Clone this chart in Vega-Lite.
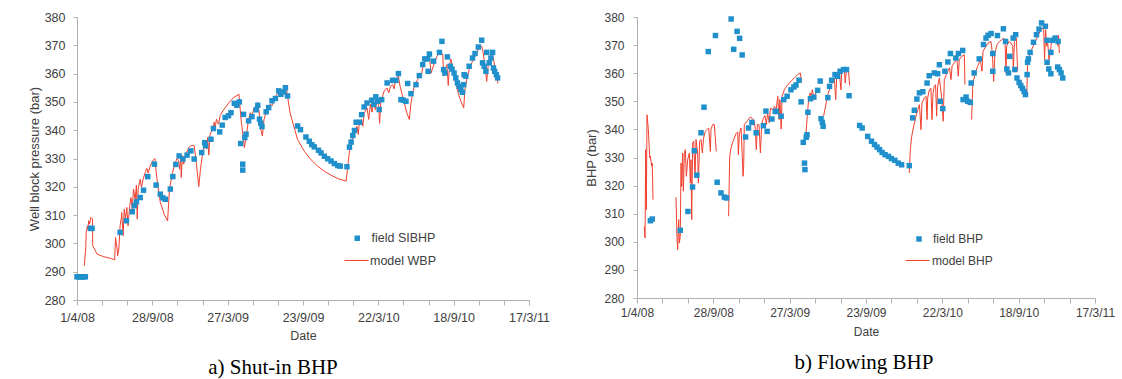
{
"$schema": "https://vega.github.io/schema/vega-lite/v6.json",
"padding": {"left": 28, "top": 11, "right": 5, "bottom": 5},
"spacing": 108,
"bounds": "flush",
"config": {
 "font": "Liberation Sans",
 "view": {"stroke": null},
 "axis": {"labelFont": "Liberation Sans", "titleFont": "Liberation Sans", "titleFontWeight": "normal", "labelColor": "#404040", "titleColor": "#404040", "labelOverlap": false, "grid": false},
 "legend": {"labelFont": "Liberation Sans", "labelColor": "#404040"}
},
"resolve": {"scale": {"x": "independent", "y": "independent", "fill": "independent", "stroke": "independent"}},
"datasets": {
 "grid_levels": [{"pressure":290},{"pressure":300},{"pressure":310},{"pressure":320},{"pressure":330},{"pressure":340},{"pressure":350},{"pressure":360},{"pressure":370},{"pressure":380}],
 "left_field": [
  {"day":0,"pressure":288.2},{"day":4,"pressure":288.2},{"day":8,"pressure":288.2},{"day":12,"pressure":288.2},{"day":16,"pressure":288.2},{"day":20,"pressure":288.2},
  {"day":32,"pressure":305.3},{"day":36,"pressure":305.3},
  {"day":103,"pressure":303.9},{"day":118,"pressure":308},{"day":132,"pressure":311.2},{"day":137,"pressure":313.3},{"day":142,"pressure":314.7},{"day":151,"pressure":316.2},{"day":159,"pressure":318.8},{"day":169,"pressure":323.6},{"day":185,"pressure":328},{"day":189,"pressure":320.6},{"day":199,"pressure":317.4},{"day":205,"pressure":316.1},{"day":211,"pressure":315.6},{"day":223,"pressure":319.2},{"day":229,"pressure":323.6},{"day":236,"pressure":327.9},{"day":244,"pressure":330.9},{"day":253,"pressure":329.8},{"day":263,"pressure":331.2},{"day":272,"pressure":332.7},{"day":280,"pressure":329.8},{"day":298,"pressure":332.1},{"day":305,"pressure":335.6},{"day":307,"pressure":334.5},{"day":320,"pressure":336.8},{"day":326,"pressure":340.6},{"day":341,"pressure":339.4},{"day":347,"pressure":341.8},{"day":354,"pressure":344.5},{"day":362,"pressure":345.1},{"day":368,"pressure":346.2},{"day":376,"pressure":349.5},{"day":382,"pressure":348.8},{"day":388,"pressure":350},{"day":391,"pressure":335.3},{"day":396,"pressure":328},{"day":396,"pressure":325.9},{"day":398,"pressure":345.6},{"day":401,"pressure":337.4},{"day":404,"pressure":338.6},{"day":410,"pressure":343.3},{"day":418,"pressure":344.8},{"day":428,"pressure":347.2},{"day":432,"pressure":348.8},{"day":436,"pressure":343.9},{"day":439,"pressure":342.5},{"day":442,"pressure":341.3},{"day":452,"pressure":346.5},{"day":458,"pressure":348},{"day":466,"pressure":350.4},{"day":474,"pressure":351.2},{"day":482,"pressure":353.9},{"day":487,"pressure":352.7},{"day":494,"pressure":353.5},{"day":498,"pressure":355},{"day":503,"pressure":352.1},
  {"day":527,"pressure":341.5},{"day":534,"pressure":340.2},{"day":547,"pressure":337.6},{"day":555,"pressure":336.1},{"day":561,"pressure":334.9},{"day":567,"pressure":334.1},{"day":577,"pressure":332.9},{"day":583,"pressure":332},{"day":591,"pressure":330.8},{"day":599,"pressure":329.9},{"day":607,"pressure":329.1},{"day":615,"pressure":328.2},{"day":623,"pressure":327.5},{"day":629,"pressure":327.3},{"day":645,"pressure":327.1},{"day":651,"pressure":334},{"day":655,"pressure":335.8},{"day":659,"pressure":338.1},{"day":663,"pressure":339.9},{"day":667,"pressure":342.8},{"day":675,"pressure":342.8},{"day":680,"pressure":345.5},{"day":686,"pressure":348.2},{"day":693,"pressure":349.6},{"day":704,"pressure":350.6},{"day":709,"pressure":349.1},{"day":714,"pressure":351.8},{"day":718,"pressure":350.2},{"day":722,"pressure":347.3},{"day":728,"pressure":350.8},{"day":741,"pressure":356.7},{"day":754,"pressure":357.6},{"day":762,"pressure":357.6},{"day":768,"pressure":360},{"day":774,"pressure":350.8},{"day":780,"pressure":350.6},{"day":786,"pressure":350.2},{"day":790,"pressure":356.5},{"day":798,"pressure":352.9},{"day":810,"pressure":356.1},{"day":818,"pressure":359.3},{"day":826,"pressure":363.2},{"day":831,"pressure":365.2},{"day":838,"pressure":365.2},{"day":839,"pressure":360.8},{"day":842,"pressure":366.9},{"day":852,"pressure":364.4},{"day":866,"pressure":367.5},{"day":872,"pressure":371.4},{"day":876,"pressure":361.4},{"day":879,"pressure":360.2},{"day":885,"pressure":365.9},{"day":892,"pressure":362.6},{"day":896,"pressure":361.6},{"day":901,"pressure":360.2},{"day":905,"pressure":358.5},{"day":909,"pressure":356.7},{"day":913,"pressure":355.5},{"day":917,"pressure":354.4},{"day":921,"pressure":353.4},{"day":924,"pressure":356.1},{"day":925,"pressure":359.6},{"day":929,"pressure":359.1},{"day":937,"pressure":362.6},{"day":945,"pressure":365.5},{"day":951,"pressure":367.1},{"day":959,"pressure":369.4},{"day":967,"pressure":371.8},{"day":969,"pressure":363.8},{"day":973,"pressure":362.6},{"day":977,"pressure":360.8},{"day":979,"pressure":367.5},{"day":985,"pressure":363.8},{"day":989,"pressure":365.5},{"day":993,"pressure":367.5},{"day":995,"pressure":362},{"day":998,"pressure":360.8},{"day":1002,"pressure":359.6},{"day":1005,"pressure":358.5}
 ],
 "left_model": [
  {"day":17.5,"pressure":292.1},{"day":21,"pressure":298.6},{"day":22,"pressure":303.9},{"day":25,"pressure":306.2},{"day":26,"pressure":305},{"day":28,"pressure":308},{"day":30,"pressure":306.8},{"day":33,"pressure":309.2},{"day":37,"pressure":308.6},{"day":37.5,"pressure":299.2},{"day":48,"pressure":296.2},{"day":64,"pressure":295.3},{"day":80,"pressure":294.7},{"day":90,"pressure":294.2},{"day":92,"pressure":302.1},{"day":96,"pressure":298},{"day":97,"pressure":295.6},{"day":100,"pressure":298},{"day":103,"pressure":306.2},{"day":106,"pressure":309.2},{"day":107,"pressure":310.9},{"day":110,"pressure":302.7},{"day":113,"pressure":312.1},{"day":116,"pressure":308.6},{"day":119,"pressure":312.7},{"day":122,"pressure":306.2},{"day":126,"pressure":313.3},{"day":129,"pressure":316.2},{"day":132,"pressure":312.1},{"day":135,"pressure":319.2},{"day":139,"pressure":315.6},{"day":142,"pressure":320.6},{"day":144,"pressure":308.6},{"day":146,"pressure":319.2},{"day":151,"pressure":322.7},{"day":154,"pressure":319.8},{"day":158,"pressure":322.7},{"day":163,"pressure":325.1},{"day":167,"pressure":326.5},{"day":170,"pressure":324.8},{"day":175,"pressure":327.4},{"day":181,"pressure":329.2},{"day":186,"pressure":330},{"day":191,"pressure":322.7},{"day":199,"pressure":314.5},{"day":209,"pressure":310},{"day":216.5,"pressure":308},{"day":221,"pressure":319.2},{"day":227,"pressure":323.9},{"day":232,"pressure":327.4},{"day":239,"pressure":330},{"day":243,"pressure":329.2},{"day":245,"pressure":326.2},{"day":248,"pressure":330.4},{"day":249,"pressure":323.3},{"day":252,"pressure":331},{"day":255,"pressure":328},{"day":259,"pressure":331},{"day":267,"pressure":333.9},{"day":275,"pressure":334.7},{"day":280,"pressure":334.5},{"day":285,"pressure":328.6},{"day":291,"pressure":320.1},{"day":295,"pressure":326.2},{"day":301,"pressure":332.7},{"day":306,"pressure":336.2},{"day":310,"pressure":333.3},{"day":312,"pressure":337.4},{"day":315,"pressure":331.2},{"day":318,"pressure":338.6},{"day":325,"pressure":340.6},{"day":328,"pressure":342.9},{"day":330,"pressure":340.4},{"day":333,"pressure":343.9},{"day":338,"pressure":342.1},{"day":342,"pressure":345.1},{"day":350,"pressure":347.2},{"day":362,"pressure":349.5},{"day":374,"pressure":351.5},{"day":387,"pressure":352.7},{"day":392,"pressure":343.9},{"day":400,"pressure":333.9},{"day":404,"pressure":337.4},{"day":410,"pressure":343.9},{"day":414,"pressure":346.2},{"day":418,"pressure":345.1},{"day":422,"pressure":347.4},{"day":427,"pressure":348.6},{"day":431,"pressure":349.8},{"day":435,"pressure":346.8},{"day":439,"pressure":340.4},{"day":443,"pressure":338},{"day":447,"pressure":343.9},{"day":454,"pressure":347.4},{"day":462,"pressure":349.2},{"day":466,"pressure":348.6},{"day":470,"pressure":350.9},{"day":478,"pressure":352.7},{"day":486,"pressure":353.5},{"day":492,"pressure":354.5},{"day":500,"pressure":355.6},{"day":503,"pressure":352.1},{"day":509,"pressure":346.2},{"day":527,"pressure":336.7},{"day":543,"pressure":332.6},{"day":559,"pressure":329.6},{"day":575,"pressure":327.3},{"day":591,"pressure":325.5},{"day":607,"pressure":324.1},{"day":623,"pressure":322.9},{"day":643,"pressure":322},{"day":647,"pressure":327.3},{"day":651,"pressure":332.6},{"day":656,"pressure":336.1},{"day":663,"pressure":339.1},{"day":669,"pressure":341.4},{"day":672,"pressure":338.5},{"day":675,"pressure":343.2},{"day":680,"pressure":343.8},{"day":683,"pressure":341.4},{"day":686,"pressure":345.9},{"day":693,"pressure":347.9},{"day":697,"pressure":343.8},{"day":701,"pressure":349.1},{"day":705,"pressure":346.4},{"day":709,"pressure":350.2},{"day":713,"pressure":347.3},{"day":717,"pressure":350.8},{"day":721,"pressure":348.5},{"day":723,"pressure":342.4},{"day":726,"pressure":350.2},{"day":734,"pressure":353.8},{"day":741,"pressure":354.9},{"day":745,"pressure":353.2},{"day":749,"pressure":355.5},{"day":754,"pressure":356.1},{"day":758,"pressure":354.6},{"day":760,"pressure":356.9},{"day":765,"pressure":358.5},{"day":768,"pressure":359.1},{"day":772,"pressure":355.5},{"day":780,"pressure":350.8},{"day":788,"pressure":346.1},{"day":794,"pressure":343.8},{"day":798,"pressure":349.6},{"day":803,"pressure":353.8},{"day":807,"pressure":356.1},{"day":814,"pressure":357.9},{"day":819,"pressure":359.6},{"day":822,"pressure":358.5},{"day":826,"pressure":362},{"day":830,"pressure":364},{"day":836,"pressure":365.2},{"day":842,"pressure":366.4},{"day":846,"pressure":360.2},{"day":850,"pressure":362},{"day":854,"pressure":363.8},{"day":860,"pressure":366.1},{"day":868,"pressure":367.9},{"day":874,"pressure":366.7},{"day":876,"pressure":359.1},{"day":879,"pressure":361.4},{"day":884,"pressure":363.2},{"day":887,"pressure":355.8},{"day":890,"pressure":362.6},{"day":893,"pressure":365.2},{"day":897,"pressure":362.6},{"day":901,"pressure":359.1},{"day":908,"pressure":354.9},{"day":913,"pressure":352},{"day":919,"pressure":349.6},{"day":924,"pressure":347.9},{"day":927,"pressure":354.4},{"day":932,"pressure":358.5},{"day":937,"pressure":361.4},{"day":945,"pressure":364.4},{"day":953,"pressure":366.7},{"day":961,"pressure":369.1},{"day":967,"pressure":369.6},{"day":970,"pressure":367.9},{"day":973,"pressure":364.4},{"day":977,"pressure":359.6},{"day":979,"pressure":357.3},{"day":983,"pressure":363.8},{"day":987,"pressure":366.1},{"day":991,"pressure":367.3},{"day":995,"pressure":365.2},{"day":1001,"pressure":360.2},{"day":1006,"pressure":356.5}
 ],
 "right_field": [
  {"day":31.5,"pressure":307.5},{"day":36,"pressure":308.1},{"day":102,"pressure":304.1},{"day":120,"pressure":310.8},{"day":131,"pressure":319.5},{"day":135,"pressure":332.4},{"day":141,"pressure":323.7},{"day":151,"pressure":338.8},{"day":158,"pressure":347.9},{"day":168,"pressure":367.7},{"day":185,"pressure":373.4},{"day":189,"pressure":321.2},{"day":198,"pressure":317.4},{"day":206,"pressure":315.9},{"day":211,"pressure":315.6},{"day":222,"pressure":379.3},{"day":228,"pressure":368.5},{"day":236,"pressure":374.9},{"day":242,"pressure":372.4},{"day":248,"pressure":366.5},{"day":256,"pressure":337.3},{"day":263,"pressure":340.5},{"day":271,"pressure":342.5},{"day":281,"pressure":338.8},{"day":298,"pressure":341.3},{"day":304,"pressure":346.5},{"day":307,"pressure":339.3},{"day":318,"pressure":343.7},{"day":326,"pressure":346.4},{"day":329,"pressure":346.4},{"day":340,"pressure":344.7},{"day":346,"pressure":350.6},{"day":354,"pressure":351.8},{"day":363,"pressure":354.1},{"day":370,"pressure":355.1},{"day":375,"pressure":355.8},{"day":382,"pressure":357.5},{"day":387,"pressure":349.8},{"day":392,"pressure":335.4},{"day":395,"pressure":328},{"day":396,"pressure":325.7},{"day":399,"pressure":337.2},{"day":401,"pressure":338.1},{"day":403,"pressure":346.1},{"day":409,"pressure":350.9},{"day":417,"pressure":351.5},{"day":426,"pressure":353.9},{"day":432,"pressure":357.2},{"day":434,"pressure":343.8},{"day":437,"pressure":342.5},{"day":439,"pressure":341.1},{"day":450,"pressure":351.3},{"day":454,"pressure":355.3},{"day":459,"pressure":357.5},{"day":467,"pressure":359.5},{"day":473,"pressure":358.9},{"day":479,"pressure":360.7},{"day":487,"pressure":361.3},{"day":494,"pressure":361.3},{"day":500,"pressure":352},
  {"day":525,"pressure":341.4},{"day":531,"pressure":340.5},{"day":544,"pressure":337.5},{"day":553,"pressure":335.8},{"day":560,"pressure":334.6},{"day":566,"pressure":333.7},{"day":572,"pressure":332.8},{"day":578,"pressure":331.8},{"day":585,"pressure":331},{"day":593,"pressure":330.4},{"day":600,"pressure":329.6},{"day":608,"pressure":329},{"day":616,"pressure":328},{"day":624,"pressure":327.4},{"day":642,"pressure":327.1},{"day":650,"pressure":344.1},{"day":654,"pressure":346.8},{"day":660,"pressure":350.8},{"day":666,"pressure":353},{"day":674,"pressure":353.4},{"day":684,"pressure":356.5},{"day":689,"pressure":359.1},{"day":701,"pressure":360.1},{"day":709,"pressure":359.8},{"day":713,"pressure":363},{"day":715,"pressure":350},{"day":721,"pressure":347.4},{"day":726,"pressure":360.7},{"day":733,"pressure":364},{"day":739,"pressure":367},{"day":752,"pressure":365.4},{"day":758,"pressure":367},{"day":768,"pressure":368.1},{"day":769,"pressure":350.6},{"day":776,"pressure":351.5},{"day":780,"pressure":350},{"day":786,"pressure":349.6},{"day":788,"pressure":356.5},{"day":795,"pressure":360.1},{"day":807,"pressure":365.1},{"day":817,"pressure":370.2},{"day":823,"pressure":372.5},{"day":828,"pressure":373.5},{"day":835,"pressure":374.1},{"day":839,"pressure":367},{"day":839,"pressure":360.7},{"day":850,"pressure":373.4},{"day":864,"pressure":375.8},{"day":869,"pressure":371.3},{"day":872,"pressure":361.5},{"day":876,"pressure":360.1},{"day":879,"pressure":366},{"day":887,"pressure":372.5},{"day":893,"pressure":373.7},{"day":891,"pressure":361.3},{"day":896,"pressure":358.3},{"day":901,"pressure":356.7},{"day":905,"pressure":355.6},{"day":909,"pressure":354.6},{"day":913,"pressure":353.5},{"day":916,"pressure":352.4},{"day":920,"pressure":359.5},{"day":921,"pressure":363.9},{"day":923,"pressure":365.1},{"day":927,"pressure":367.4},{"day":935,"pressure":371},{"day":942,"pressure":373.7},{"day":948,"pressure":375.7},{"day":954,"pressure":377.9},{"day":963,"pressure":376.7},{"day":967,"pressure":371.7},{"day":967,"pressure":363.9},{"day":971,"pressure":361.5},{"day":976,"pressure":359.8},{"day":976,"pressure":367.4},{"day":980,"pressure":371.7},{"day":986,"pressure":372.5},{"day":993,"pressure":371.3},{"day":992,"pressure":362.2},{"day":996,"pressure":361.3},{"day":1000,"pressure":360.1},{"day":1004,"pressure":358.3}
 ],
 "right_model": [
  {"seg":1,"day":17,"pressure":305.5},{"seg":1,"day":19,"pressure":301.4},{"seg":1,"day":20.5,"pressure":332.8},{"seg":1,"day":22,"pressure":311.4},{"seg":1,"day":23.6,"pressure":345.2},{"seg":1,"day":26.8,"pressure":339.9},{"seg":1,"day":30,"pressure":329.8},{"seg":1,"day":31.5,"pressure":330.4},{"seg":1,"day":34.6,"pressure":326.9},{"seg":1,"day":36,"pressure":328},{"seg":1,"day":37.8,"pressure":315},
  {"seg":2,"day":92,"pressure":315.9},{"seg":2,"day":94.4,"pressure":300.8},{"seg":2,"day":96,"pressure":297.2},{"seg":2,"day":98.3,"pressure":307.9},{"seg":2,"day":99.9,"pressure":299.6},{"seg":2,"day":102,"pressure":302},{"seg":2,"day":103.8,"pressure":328},{"seg":2,"day":105.4,"pressure":319.7},{"seg":2,"day":107.7,"pressure":331.6},{"seg":2,"day":109.3,"pressure":318},{"seg":2,"day":111.7,"pressure":331.4},{"seg":2,"day":114,"pressure":332.8},{"seg":2,"day":116.4,"pressure":323.3},{"seg":2,"day":119.5,"pressure":329.2},{"seg":2,"day":123.5,"pressure":331.6},{"seg":2,"day":125.8,"pressure":320.9},{"seg":2,"day":127.4,"pressure":329.2},{"seg":2,"day":129,"pressure":307.9},{"seg":2,"day":131.3,"pressure":335.2},{"seg":2,"day":133.7,"pressure":335.8},{"seg":2,"day":136.8,"pressure":323.3},{"seg":2,"day":139.2,"pressure":336.4},{"seg":2,"day":143,"pressure":331.6},{"seg":2,"day":144.7,"pressure":320.9},{"seg":2,"day":147.8,"pressure":335.8},{"seg":2,"day":151,"pressure":336.4},{"seg":2,"day":154,"pressure":331.6},{"seg":2,"day":157,"pressure":336.9},{"seg":2,"day":161,"pressure":339.3},{"seg":2,"day":165,"pressure":339.9},{"seg":2,"day":169,"pressure":340.5},{"seg":2,"day":173,"pressure":332.2},{"seg":2,"day":174.5,"pressure":340.1},{"seg":2,"day":178.5,"pressure":341.7},{"seg":2,"day":182.4,"pressure":341.7},{"seg":2,"day":187,"pressure":332.2},
  {"seg":3,"day":216,"pressure":309.1},{"seg":3,"day":218.6,"pressure":330.4},{"seg":3,"day":221.7,"pressure":333.4},{"seg":3,"day":225.6,"pressure":335.4},{"seg":3,"day":229.6,"pressure":336.9},{"seg":3,"day":233.5,"pressure":338.5},{"seg":3,"day":237.4,"pressure":339.1},{"seg":3,"day":239,"pressure":331},{"seg":3,"day":241.4,"pressure":338.5},{"seg":3,"day":245.3,"pressure":340.5},{"seg":3,"day":248.4,"pressure":330.4},{"seg":3,"day":250,"pressure":323.3},{"seg":3,"day":251.6,"pressure":326.9},{"seg":3,"day":253,"pressure":341.7},{"seg":3,"day":261,"pressure":343.2},{"seg":3,"day":267,"pressure":344.4},{"seg":3,"day":271.2,"pressure":344},{"seg":3,"day":276.7,"pressure":342.9},{"seg":3,"day":279,"pressure":339.9},{"seg":3,"day":281.4,"pressure":332.8},{"seg":3,"day":283.8,"pressure":341.7},{"seg":3,"day":287.7,"pressure":341.7},{"seg":3,"day":291,"pressure":331.6},{"seg":3,"day":294,"pressure":341.7},{"seg":3,"day":298,"pressure":344},{"seg":3,"day":302,"pressure":344.9},{"seg":3,"day":305,"pressure":341.7},{"seg":3,"day":308,"pressure":345.8},{"seg":3,"day":312,"pressure":342.3},{"seg":3,"day":314.5,"pressure":347.6},{"seg":3,"day":320,"pressure":347},{"seg":3,"day":324,"pressure":348.2},{"seg":3,"day":328,"pressure":347},{"seg":3,"day":332,"pressure":351.8},{"seg":3,"day":335,"pressure":343.5},{"seg":3,"day":337,"pressure":350.6},{"seg":3,"day":340,"pressure":340.1},{"seg":3,"day":342,"pressure":351.8},{"seg":3,"day":347.5,"pressure":354.1},{"seg":3,"day":355,"pressure":355.9},{"seg":3,"day":363,"pressure":357.1},{"seg":3,"day":371,"pressure":358.3},{"seg":3,"day":379,"pressure":359.5},{"seg":3,"day":385,"pressure":360.1},{"seg":3,"day":388,"pressure":357.1},
  {"seg":4,"day":397,"pressure":335.2},{"seg":4,"day":400,"pressure":341.7},{"seg":4,"day":404,"pressure":349.4},{"seg":4,"day":408,"pressure":353},{"seg":4,"day":411,"pressure":351.8},{"seg":4,"day":413.5,"pressure":354.1},{"seg":4,"day":418,"pressure":350.6},{"seg":4,"day":420.6,"pressure":352.4},{"seg":4,"day":423,"pressure":353.5},{"seg":4,"day":426,"pressure":354.1},
  {"seg":5,"day":440,"pressure":344.7},{"seg":5,"day":450,"pressure":352.4},{"seg":5,"day":453.6,"pressure":354.1},{"seg":5,"day":457.5,"pressure":355.9},{"seg":5,"day":461.5,"pressure":356.5},{"seg":5,"day":465.4,"pressure":358.3},{"seg":5,"day":468.5,"pressure":350.6},{"seg":5,"day":471,"pressure":358.9},{"seg":5,"day":477,"pressure":360.1},{"seg":5,"day":481,"pressure":354.1},{"seg":5,"day":482.7,"pressure":360.7},{"seg":5,"day":489,"pressure":361.3},{"seg":5,"day":491,"pressure":356.5},{"seg":5,"day":494,"pressure":361.3},{"seg":5,"day":498.4,"pressure":361.5},{"seg":5,"day":501.5,"pressure":355.6},
  {"seg":6,"day":642,"pressure":324.5},{"seg":6,"day":644.5,"pressure":332.8},{"seg":6,"day":647.7,"pressure":337.5},{"seg":6,"day":652.4,"pressure":341.1},{"seg":6,"day":658,"pressure":344.7},{"seg":6,"day":662,"pressure":347},{"seg":6,"day":666,"pressure":348.8},{"seg":6,"day":669.7,"pressure":339.9},{"seg":6,"day":672,"pressure":349.4},{"seg":6,"day":677.5,"pressure":351.2},{"seg":6,"day":681.5,"pressure":351.8},{"seg":6,"day":684,"pressure":343.5},{"seg":6,"day":685.4,"pressure":351.2},{"seg":6,"day":689.3,"pressure":354.1},{"seg":6,"day":693,"pressure":354.7},{"seg":6,"day":695.6,"pressure":343.5},{"seg":6,"day":698,"pressure":353},{"seg":6,"day":701,"pressure":355.3},{"seg":6,"day":704,"pressure":355.9},{"seg":6,"day":706.6,"pressure":344.7},{"seg":6,"day":709,"pressure":355.3},{"seg":6,"day":713,"pressure":358.3},{"seg":6,"day":718,"pressure":351.8},{"seg":6,"day":722,"pressure":342.9},{"seg":6,"day":724.7,"pressure":357.7},{"seg":6,"day":731,"pressure":360.1},{"seg":6,"day":737,"pressure":361.9},{"seg":6,"day":740.4,"pressure":357.7},{"seg":6,"day":743,"pressure":362.5},{"seg":6,"day":750,"pressure":364.2},{"seg":6,"day":754.5,"pressure":364.8},{"seg":6,"day":757.7,"pressure":358.9},{"seg":6,"day":760,"pressure":364.8},{"seg":6,"day":766,"pressure":366},{"seg":6,"day":771.8,"pressure":366.6},{"seg":6,"day":773.4,"pressure":355.9},
  {"seg":7,"day":789,"pressure":343.5},{"seg":7,"day":792,"pressure":356.5},{"seg":7,"day":797,"pressure":359.5},{"seg":7,"day":803,"pressure":362.4},{"seg":7,"day":809.6,"pressure":364.8},{"seg":7,"day":813.5,"pressure":360.7},{"seg":7,"day":816,"pressure":367.8},{"seg":7,"day":823,"pressure":369.6},{"seg":7,"day":828,"pressure":370.7},{"seg":7,"day":834.7,"pressure":371.3},{"seg":7,"day":838,"pressure":367.2},{"seg":7,"day":841,"pressure":357.1},{"seg":7,"day":844,"pressure":367.2},{"seg":7,"day":849,"pressure":370.2},{"seg":7,"day":855,"pressure":371.3},{"seg":7,"day":860,"pressure":371.9},{"seg":7,"day":865,"pressure":372.5},{"seg":7,"day":868,"pressure":370.7},{"seg":7,"day":870,"pressure":360.1},{"seg":7,"day":871.7,"pressure":369.6},{"seg":7,"day":877,"pressure":371.3},{"seg":7,"day":882,"pressure":370.7},{"seg":7,"day":886,"pressure":369.6},{"seg":7,"day":887.4,"pressure":361.3},{"seg":7,"day":890,"pressure":371.3},{"seg":7,"day":894.5,"pressure":372.5},{"seg":7,"day":897.6,"pressure":360.7},
  {"seg":8,"day":919,"pressure":351.5},{"seg":8,"day":921,"pressure":363},{"seg":8,"day":925,"pressure":366},{"seg":8,"day":930.6,"pressure":368.4},{"seg":8,"day":937,"pressure":370.7},{"seg":8,"day":943,"pressure":372.5},{"seg":8,"day":948.7,"pressure":374.3},{"seg":8,"day":954,"pressure":376.1},{"seg":8,"day":959,"pressure":375.5},{"seg":8,"day":961,"pressure":364.8},{"seg":8,"day":963.6,"pressure":375.5},{"seg":8,"day":966,"pressure":369.6},{"seg":8,"day":968,"pressure":371.9},{"seg":8,"day":971.5,"pressure":364.8},{"seg":8,"day":974.6,"pressure":367.2},{"seg":8,"day":977.8,"pressure":371.9},{"seg":8,"day":982.5,"pressure":373.1},{"seg":8,"day":987,"pressure":372.5},{"seg":8,"day":990.3,"pressure":373.4},{"seg":8,"day":992.7,"pressure":369.6},{"seg":8,"day":994,"pressure":373.4},{"seg":8,"day":996,"pressure":367.2}
 ]
},
"hconcat": [
 {
  "width": 452, "height": 283,
  "title": {"text": "a) Shut-in BHP", "orient": "bottom", "font": "Liberation Serif", "fontSize": 21, "fontWeight": "normal", "color": "#000000", "offset": 15, "dx": -30},
  "encoding": {
   "x": {"field": "day", "type": "quantitative", "scale": {"domain": [0, 1080], "nice": false, "zero": false},
     "axis": {"values": [0,60,120,180,240,300,360,420,480,540,600,660,720,780,840,900,960,1020,1080], "labelExpr": "datum.value % 180 === 0 ? timeFormat(datetime(2008, 3, 1 + datum.value), '%-d/%-m/%y') : ''", "grid": false, "domainColor": "#b0b0b0", "tickColor": "#b0b0b0", "tickSize": 5, "labelFontSize": 12.5, "labelPadding": 6, "labelOverlap": false, "labelFlush": false, "title": "Date", "titleFontSize": 12.5, "titlePadding": 6}},
   "y": {"field": "pressure", "type": "quantitative", "scale": {"domain": [280, 380], "nice": false, "zero": false},
     "axis": {"values": [280,290,300,310,320,330,340,350,360,370,380], "labelOverlap": false, "grid": false, "domainColor": "#b0b0b0", "tickColor": "#b4b4b4", "tickSize": 4, "labelFontSize": 12.5, "labelPadding": 8, "title": "Well block pressure (bar)", "titleFontSize": 13, "titlePadding": 3}}
  },
  "layer": [
   {
    "data": {"name": "grid_levels"},
    "mark": {"type": "rule", "stroke": "#bababa", "strokeDash": [2, 2], "strokeWidth": 1.5},
    "encoding": {"x": {"datum": 0}, "x2": {"datum": 1080}}
   },
   {
    "data": {"name": "left_model"},
    "mark": {"type": "line", "strokeWidth": 1, "clip": true},
    "encoding": {
     "stroke": {"datum": "model WBP", "type": "nominal", "scale": {"domain": ["model WBP"], "range": ["#f0402e"]},
       "legend": {"orient": "none", "legendX": 267, "legendY": 231, "title": null, "symbolType": "stroke", "symbolSize": 576, "symbolStrokeWidth": 1, "labelFontSize": 12.5, "labelOffset": 1, "padding": 0}}
    }
   },
   {
    "data": {"name": "left_field"},
    "mark": {"type": "square", "size": 30, "opacity": 1},
    "encoding": {
     "fill": {"datum": "field SIBHP", "type": "nominal", "scale": {"domain": ["field SIBHP"], "range": ["#2090cc"]},
       "legend": {"orient": "none", "legendX": 274, "legendY": 215, "title": null, "symbolType": "square", "symbolSize": 30, "labelFontSize": 12.5, "labelOffset": 8, "padding": 0}}
    }
   }
  ]
 },
 {
  "width": 458, "height": 281,
  "title": {"text": "b) Flowing BHP", "orient": "bottom", "font": "Liberation Serif", "fontSize": 21, "fontWeight": "normal", "color": "#000000", "offset": 15, "dx": -2},
  "encoding": {
   "x": {"field": "day", "type": "quantitative", "scale": {"domain": [0, 1080], "nice": false, "zero": false},
     "axis": {"values": [0,60,120,180,240,300,360,420,480,540,600,660,720,780,840,900,960,1020,1080], "labelExpr": "datum.value % 180 === 0 ? timeFormat(datetime(2008, 3, 1 + datum.value), '%-d/%-m/%y') : ''", "grid": false, "domainColor": "#b0b0b0", "tickColor": "#b0b0b0", "tickSize": 5, "labelFontSize": 12, "labelPadding": 4, "labelOverlap": false, "labelFlush": false, "title": "Date", "titleFontSize": 12, "titlePadding": 8}},
   "y": {"field": "pressure", "type": "quantitative", "scale": {"domain": [280, 380], "nice": false, "zero": false},
     "axis": {"values": [280,290,300,310,320,330,340,350,360,370,380], "labelOverlap": false, "grid": false, "domainColor": "#b0b0b0", "tickColor": "#b4b4b4", "tickSize": 4, "labelFontSize": 12, "labelPadding": 9, "title": "BHP (bar)", "titleFontSize": 13, "titlePadding": 5}}
  },
  "layer": [
   {
    "data": {"name": "grid_levels"},
    "mark": {"type": "rule", "stroke": "#bababa", "strokeDash": [2, 2], "strokeWidth": 1.5},
    "encoding": {"x": {"datum": 0}, "x2": {"datum": 1080}}
   },
   {
    "data": {"name": "right_model"},
    "mark": {"type": "line", "strokeWidth": 1, "clip": true},
    "encoding": {
     "detail": {"field": "seg", "type": "nominal"},
     "stroke": {"datum": "model BHP", "type": "nominal", "scale": {"domain": ["model BHP"], "range": ["#f0402e"]},
       "legend": {"orient": "none", "legendX": 268, "legendY": 231, "title": null, "symbolType": "stroke", "symbolSize": 576, "symbolStrokeWidth": 1, "labelFontSize": 12, "labelOffset": 2, "padding": 0}}
    }
   },
   {
    "data": {"name": "right_field"},
    "mark": {"type": "square", "size": 30, "opacity": 1},
    "encoding": {
     "fill": {"datum": "field BHP", "type": "nominal", "scale": {"domain": ["field BHP"], "range": ["#2090cc"]},
       "legend": {"orient": "none", "legendX": 276, "legendY": 216, "title": null, "symbolType": "square", "symbolSize": 30, "labelFontSize": 12, "labelOffset": 8, "padding": 0}}
    }
   }
  ]
 }
]
}
